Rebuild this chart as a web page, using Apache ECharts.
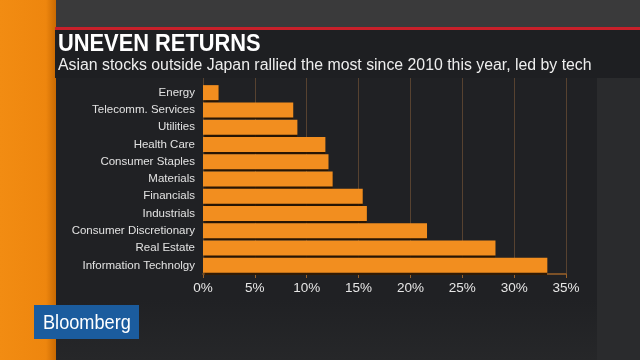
<!DOCTYPE html>
<html>
<head>
<meta charset="utf-8">
<script src="https://cdn.jsdelivr.net/npm/echarts@6/dist/echarts.min.js"></script>
<style>
html,body{margin:0;padding:0;background:#202124;}
#c{width:640px;height:360px;}
</style>
</head>
<body>
<div id="c"></div>
<script>
var categories = ['Energy','Telecomm. Services','Utilities','Health Care','Consumer Staples','Materials','Financials','Industrials','Consumer Discretionary','Real Estate','Information Technolgy'];
var returnsPct = [1.5, 8.7, 9.1, 11.8, 12.1, 12.5, 15.4, 15.8, 21.6, 28.2, 33.2];
var xMin = 0, xMax = 35, xStep = 5;
var titleText = 'UNEVEN RETURNS';
var subtitleText = 'Asian stocks outside Japan rallied the most since 2010 this year, led by tech';
var brandText = 'Bloomberg';

var FONT = '"Liberation Sans", Arial, sans-serif';
var chart = echarts.init(document.getElementById('c'), null, {renderer:'canvas'});
var option = {
  backgroundColor: '#202124',
  animation: false,
  graphic: [
    {type:'rect', z:-10, shape:{x:0,y:0,width:640,height:28}, style:{fill:'#3a3a3b'}},
    {type:'rect', z:-10, shape:{x:597,y:78,width:43,height:282}, style:{fill:'#2a2b2d'}},
    {type:'rect', z:-10, shape:{x:55,y:300,width:542,height:60}, style:{fill:new echarts.graphic.LinearGradient(0,0,0,1,[{offset:0,color:'#202124'},{offset:1,color:'#262729'}])}},
    {type:'rect', z:-9, shape:{x:0,y:0,width:56,height:360}, style:{fill:new echarts.graphic.LinearGradient(0,0,1,0,[{offset:0,color:'#f28c12'},{offset:0.82,color:'#ee860e'},{offset:1,color:'#c96a02'}])}},
    {type:'rect', z:-8, shape:{x:55,y:27,width:585,height:3}, style:{fill:'#c8202a'}},
    {type:'rect', z:-8, shape:{x:55,y:30,width:585,height:48}, style:{fill:'#1e1f22'}},
    {type:'text', x:58, y:44, scaleX:0.91, style:{text:titleText, fill:'#ffffff', font:'bold 24px '+FONT, verticalAlign:'middle', align:'left'}},
    {type:'text', x:58, y:65.5, scaleX:0.99, style:{text:subtitleText, fill:'#eeeeee', font:'16px '+FONT, verticalAlign:'middle', align:'left'}},
    {type:'rect', shape:{x:34,y:305,width:105,height:34}, style:{fill:'#1b5c9e'}},
    {type:'text', x:43, y:323, scaleX:0.865, style:{text:brandText, fill:'#ffffff', font:'21px '+FONT, verticalAlign:'middle', align:'left'}}
  ],
  grid: [
    {left:203, right:74, top:84, bottom:86},
    {left:203, right:74, top:78, bottom:86}
  ],
  xAxis: [
    {type:'value', gridIndex:0, min:xMin, max:xMax, interval:xStep,
     axisLine:{show:true, lineStyle:{color:'#9a6128', width:1.5}},
     axisTick:{show:true, length:4, lineStyle:{color:'#9a6128'}},
     splitLine:{show:false},
     axisLabel:{color:'#e6e6e6', fontSize:13.5, fontFamily:FONT, margin:7, formatter:'{value}%'}},
    {type:'value', gridIndex:1, min:xMin, max:xMax, interval:xStep,
     axisLine:{show:false}, axisTick:{show:false}, axisLabel:{show:false},
     splitLine:{show:true, lineStyle:{color:'#574230', width:1}}}
  ],
  yAxis: [
    {type:'category', gridIndex:0, data:categories, inverse:true,
     axisLine:{show:false}, axisTick:{show:false},
     axisLabel:{color:'#e2e2e2', fontSize:11.5, fontFamily:FONT, margin:8}},
    {type:'value', gridIndex:1, show:false, min:0, max:1}
  ],
  series: [
    {type:'bar', xAxisIndex:0, yAxisIndex:0, data:returnsPct, barWidth:15,
     itemStyle:{color:'#f28e1f', shadowColor:'rgba(40,20,0,0.9)', shadowOffsetY:2, shadowBlur:1}, z:3}
  ]
};
chart.setOption(option);
</script>
</body>
</html>
